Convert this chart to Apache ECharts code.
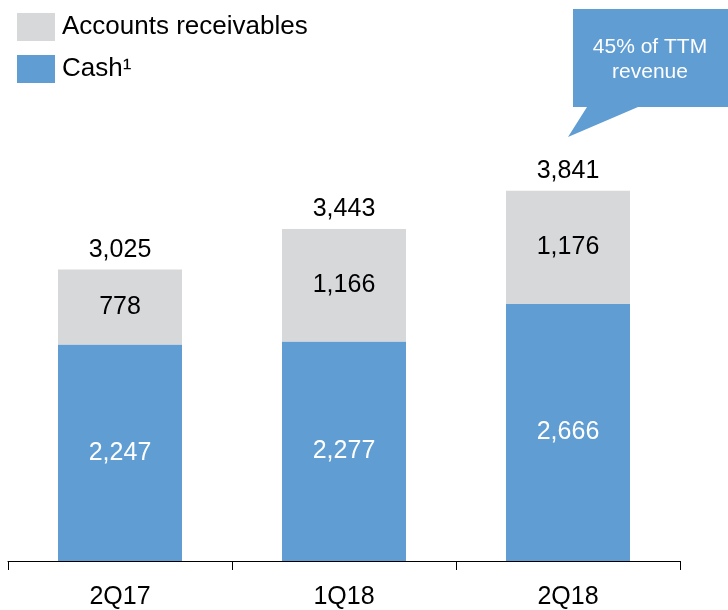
<!DOCTYPE html>
<html>
<head>
<meta charset="utf-8">
<style>
  html, body { margin: 0; padding: 0; background: #fff; }
  #chart { width: 728px; height: 610px; }
</style>
<script src="https://cdn.jsdelivr.net/npm/echarts@6/dist/echarts.min.js"></script>
</head>
<body>
<div id="chart"></div>
<script>
// values
const quarters = ['2Q17', '1Q18', '2Q18'];
const cash = [2247, 2277, 2666];
const receivables = [778, 1166, 1176];
const totals = [3025, 3443, 3841]; // as printed (rounded)

const fmt = v => v.toLocaleString('en-US');
const font = 'Liberation Sans, Arial, sans-serif';

const chart = echarts.init(document.getElementById('chart'));

const option = {
  animation: false,
  textStyle: { fontFamily: font },
  legend: {
    orient: 'vertical',
    left: 12,
    top: 8,
    itemWidth: 38,
    itemHeight: 28,
    itemGap: 14,
    icon: 'rect',
    data: ['Accounts receivables', 'Cash¹'],
    textStyle: { fontSize: 26, lineHeight: 28, color: '#000', fontFamily: font, padding: [0, 0, 0, 2] }
  },
  grid: { left: 8, right: 48, top: 79, bottom: 47 },
  xAxis: {
    type: 'category',
    data: quarters,
    axisLine: { lineStyle: { color: '#000', width: 1 } },
    axisTick: { show: true, length: 9, lineStyle: { color: '#000' } },
    axisLabel: { color: '#000', fontSize: 25, margin: 24, fontFamily: font }
  },
  yAxis: {
    type: 'value',
    min: 0,
    max: 5000,
    show: false,
    splitLine: { show: false }
  },
  series: [
    {
      name: 'Cash¹',
      type: 'bar',
      stack: 'total',
      barWidth: 124,
      data: cash,
      itemStyle: { color: '#5f9dd2' },
      label: {
        show: true,
        position: 'inside',
        color: '#fff',
        fontSize: 25,
        fontFamily: font,
        formatter: p => fmt(p.value)
      }
    },
    {
      name: 'Accounts receivables',
      type: 'bar',
      stack: 'total',
      barWidth: 124,
      data: receivables,
      itemStyle: { color: '#d7d8da' },
      label: {
        show: true,
        position: 'inside',
        color: '#000',
        fontSize: 25,
        fontFamily: font,
        formatter: p => fmt(p.value)
      }
    },
    {
      name: 'total',
      type: 'bar',
      stack: 'total',
      barWidth: 124,
      data: quarters.map(() => 0),
      itemStyle: { color: 'transparent' },
      label: {
        show: true,
        position: 'top',
        distance: 7,
        color: '#000',
        fontSize: 25,
        fontFamily: font,
        formatter: p => fmt(totals[p.dataIndex])
      },
      tooltip: { show: false }
    }
  ],
  graphic: [
    {
      type: 'polygon',
      shape: {
        points: [[573, 9], [728, 9], [728, 107], [638, 107], [568, 137], [587, 107], [573, 107]]
      },
      style: { fill: '#5f9dd2' }
    },
    {
      type: 'text',
      x: 650,
      y: 35,
      style: {
        text: '45% of TTM\nrevenue',
        fill: '#fff',
        font: '21px Liberation Sans, Arial, sans-serif',
        align: 'center',
        lineHeight: 25
      }
    }
  ]
};

chart.setOption(option);
window.addEventListener('resize', () => chart.resize());
</script>
</body>
</html>
